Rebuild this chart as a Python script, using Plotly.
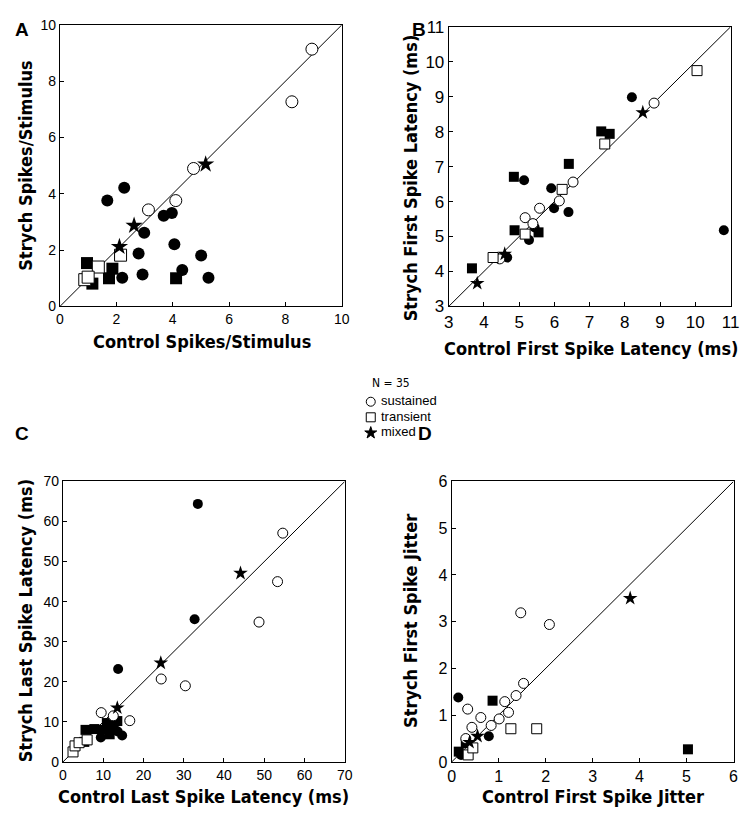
import plotly.graph_objects as go

# ---- Panel A: spikes / stimulus ----
a_sus_x = [8.94, 8.23, 4.74, 3.14, 4.11]
a_sus_y = [9.14, 7.27, 4.90, 3.43, 3.76]
a_tra_x = [2.15, 1.36, 0.88, 1.00]
a_tra_y = [1.82, 1.40, 0.95, 1.04]
a_mix_x = [5.17, 2.63, 2.11]
a_mix_y = [5.05, 2.87, 2.12]
a_fsq_x = [0.96, 1.86, 1.74, 1.15, 4.12]
a_fsq_y = [1.54, 1.34, 1.00, 0.81, 1.00]
a_fci_x = [1.68, 2.28, 3.68, 3.97, 2.99, 2.79, 4.06, 5.01, 4.34, 2.21, 2.93, 5.27]
a_fci_y = [3.76, 4.22, 3.22, 3.32, 2.62, 1.88, 2.21, 1.81, 1.29, 1.02, 1.13, 1.02]

# ---- Panel B: first spike latency ----
b_sus_x = [8.83, 6.53, 6.14, 5.58, 5.17, 5.39, 4.33, 4.45]
b_sus_y = [8.82, 6.56, 6.02, 5.81, 5.54, 5.37, 4.40, 4.36]
b_tra_x = [10.05, 7.43, 6.22, 5.17, 4.26]
b_tra_y = [9.75, 7.65, 6.35, 5.07, 4.40]
b_mix_x = [8.51, 3.81, 4.59]
b_mix_y = [8.55, 3.66, 4.50]
b_fsq_x = [3.66, 4.85, 4.87, 6.41, 7.33, 7.57, 5.55]
b_fsq_y = [4.09, 6.71, 5.18, 7.08, 8.01, 7.94, 5.12]
b_fci_x = [8.20, 5.14, 5.91, 5.99, 6.40, 5.44, 5.28, 4.66, 10.81]
b_fci_y = [8.99, 6.61, 6.38, 5.81, 5.70, 5.26, 4.90, 4.40, 5.18]

# ---- Panel C: last spike latency ----
c_sus_x = [54.6, 53.3, 48.7, 24.4, 30.4, 9.5, 12.5, 16.6]
c_sus_y = [57.1, 45.0, 34.9, 20.7, 19.0, 12.3, 11.5, 10.3]
c_tra_x = [2.5, 3.0, 4.0, 6.0]
c_tra_y = [2.5, 4.0, 4.8, 5.5]
c_mix_x = [44.1, 24.3, 13.5]
c_mix_y = [47.1, 24.7, 13.5]
c_fsq_x = [5.3, 5.6, 7.8, 10.0, 11.6, 10.9, 13.5, 12.6]
c_fsq_y = [5.0, 8.0, 8.2, 8.0, 6.9, 9.7, 10.2, 8.5]
c_fci_x = [33.5, 32.7, 13.7, 9.4, 14.7, 13.6, 12.0]
c_fci_y = [64.4, 35.6, 23.2, 6.1, 6.6, 7.6, 9.0]

# ---- Panel D: first spike jitter ----
d_sus_x = [1.47, 2.08, 1.53, 1.37, 1.13, 0.34, 1.21, 0.62, 1.01, 0.43, 0.84, 0.30]
d_sus_y = [3.19, 2.94, 1.68, 1.42, 1.29, 1.13, 1.06, 0.95, 0.92, 0.74, 0.78, 0.50]
d_tra_x = [1.26, 1.81, 0.35, 0.45]
d_tra_y = [0.71, 0.71, 0.15, 0.30]
d_mix_x = [3.80, 0.55, 0.38]
d_mix_y = [3.50, 0.55, 0.42]
d_fsq_x = [0.87, 5.03, 0.15, 0.30]
d_fsq_y = [1.31, 0.27, 0.22, 0.40]
d_fci_x = [0.14, 0.79, 6.19, 6.19, 0.20]
d_fci_y = [1.38, 0.55, 3.83, 2.66, 0.15]

# legend key
legend_labels = ["sustained", "transient", "mixed"]
legend_symbols = ["circle", "square", "star"]
legend_colors = ["white", "white", "black"]

ranges = {"A": [0, 10], "B": [3, 11], "C": [0, 70], "D": [0, 6]}
dticks = {"A": 2, "B": 1, "C": 10, "D": 1}

panels = [
    ("A", "x", "y", (a_sus_x, a_sus_y), (a_tra_x, a_tra_y), (a_mix_x, a_mix_y),
     (a_fsq_x, a_fsq_y), (a_fci_x, a_fci_y), 12),
    ("B", "x2", "y2", (b_sus_x, b_sus_y), (b_tra_x, b_tra_y), (b_mix_x, b_mix_y),
     (b_fsq_x, b_fsq_y), (b_fci_x, b_fci_y), 10),
    ("C", "x3", "y3", (c_sus_x, c_sus_y), (c_tra_x, c_tra_y), (c_mix_x, c_mix_y),
     (c_fsq_x, c_fsq_y), (c_fci_x, c_fci_y), 10),
    ("D", "x4", "y4", (d_sus_x, d_sus_y), (d_tra_x, d_tra_y), (d_mix_x, d_mix_y),
     (d_fsq_x, d_fsq_y), (d_fci_x, d_fci_y), 10),
]

fig = go.Figure()
outline = dict(color="black", width=1)

for key, xa, ya, sus, tra, mix, fsq, fci, msz in panels:
    r = ranges[key]
    # unity line
    fig.add_trace(go.Scatter(x=r, y=r, xaxis=xa, yaxis=ya, mode="lines",
                             line=dict(color="black", width=1), hoverinfo="skip"))
    fig.add_trace(go.Scatter(x=fci[0], y=fci[1], xaxis=xa, yaxis=ya, mode="markers",
                             marker=dict(symbol="circle", size=msz, color="black"),
                             cliponaxis=False))
    fig.add_trace(go.Scatter(x=fsq[0], y=fsq[1], xaxis=xa, yaxis=ya, mode="markers",
                             marker=dict(symbol="square", size=msz, color="black"),
                             cliponaxis=False))
    fig.add_trace(go.Scatter(x=sus[0], y=sus[1], xaxis=xa, yaxis=ya, mode="markers",
                             marker=dict(symbol="circle", size=msz, color="white", line=outline),
                             name="sustained", cliponaxis=False))
    fig.add_trace(go.Scatter(x=tra[0], y=tra[1], xaxis=xa, yaxis=ya, mode="markers",
                             marker=dict(symbol="square", size=msz, color="white", line=outline),
                             name="transient", cliponaxis=False))
    fig.add_trace(go.Scatter(x=mix[0], y=mix[1], xaxis=xa, yaxis=ya, mode="markers",
                             marker=dict(symbol="star", size=msz + 1, color="black"),
                             name="mixed", cliponaxis=False))

# hand-made key on a hidden axis
fig.add_trace(go.Scatter(
    x=[0] * len(legend_labels), y=list(range(len(legend_labels))),
    xaxis="x5", yaxis="y5", mode="markers+text",
    text=[" " + t for t in legend_labels], textposition="middle right",
    textfont=dict(family="Liberation Sans, Arial", size=13, color="black"),
    marker=dict(symbol=legend_symbols, color=legend_colors, size=9, line=outline),
    cliponaxis=False, hoverinfo="skip"))

W, H = 750, 814
# the page ends up drawn slightly shrunk and shifted; positions below are
# target pixels, mapped back through that
SC, OFF = 0.982, 15.0

def fx(t):
    return max(0.0, (t - OFF) / SC / W)

def fy(t):
    return min(1.0, 1 - (t - OFF) / SC / H)

boxes = {
    "A": ((62, 344), (23, 306)),
    "B": ((451, 733), (25, 306)),
    "C": ((65, 347), (482, 764)),
    "D": ((454, 736), (482, 764)),
}
tick_sizes = {"A": 14, "B": 17, "C": 14, "D": 16}
names = [("A", "xaxis", "yaxis", "y", "x"), ("B", "xaxis2", "yaxis2", "y2", "x2"),
         ("C", "xaxis3", "yaxis3", "y3", "x3"), ("D", "xaxis4", "yaxis4", "y4", "x4")]

layout_axes = {}
for key, xname, yname, yanchor, xanchor in names:
    (x0, x1), (y0, y1) = boxes[key]
    common = dict(range=ranges[key], dtick=dticks[key], tick0=ranges[key][0],
                  showgrid=False, zeroline=False, showline=True, mirror=True,
                  linecolor="black", linewidth=1, ticks="inside", ticklen=4,
                  tickcolor="black",
                  tickfont=dict(family="Liberation Sans, Arial", size=tick_sizes[key],
                                color="black"))
    layout_axes[xname] = dict(common, domain=[fx(x0), fx(x1)], anchor=yanchor)
    layout_axes[yname] = dict(common, domain=[fy(y1), fy(y0)], anchor=xanchor)

hidden = dict(visible=False, showgrid=False, zeroline=False, fixedrange=True)
layout_axes["xaxis5"] = dict(hidden, domain=[fx(373), fx(473)], range=[0, 10], anchor="y5")
layout_axes["yaxis5"] = dict(hidden, domain=[fy(441), fy(394)], range=[2.5, -0.5],
                             anchor="x5")

fig.update_layout(**layout_axes)

title_font = dict(family="DejaVu Sans Condensed, Liberation Sans, Arial", size=18,
                  color="black")
annotations = []
xtitles = [("Control Spikes/Stimulus", 204, 341), ("Control First Spike Latency (ms)", 594, 348),
           ("Control Last Spike Latency (ms)", 206, 799), ("Control First Spike Jitter", 595, 799)]
# (text, left-edge target, centre y target)
ytitles = [("Strych Spikes/Stimulus", 13, 165), ("Strych First Spike Latency (ms)", 400, 177),
           ("Strych Last Spike Latency (ms)", 9, 622), ("Strych First Spike Jitter", 400, 622)]
for t, px, py in xtitles:
    annotations.append(dict(text="<b>%s</b>" % t, x=fx(px), y=fy(py), xref="paper",
                            yref="paper", showarrow=False, font=title_font,
                            xanchor="center", yanchor="middle"))
for t, px, py in ytitles:
    annotations.append(dict(text="<b>%s</b>" % t, x=fx(px), y=fy(py), xref="paper",
                            yref="paper", showarrow=False, font=title_font, textangle=-90,
                            xanchor="left", yanchor="middle"))
# panel letters: (label, left target, top target)
for lab, px, py in [("A", 2, 2), ("B", 412, 2), ("C", 4, 421), ("D", 418, 421)]:
    annotations.append(dict(text="<b>%s</b>" % lab, x=fx(px), y=fy(py), xref="paper",
                            yref="paper", showarrow=False,
                            font=dict(family="Liberation Sans, Arial", size=19, color="black"),
                            xanchor="left", yanchor="top"))
annotations.append(dict(text="N = 35", x=fx(393), y=fy(383), xref="paper", yref="paper",
                        showarrow=False, xanchor="center", yanchor="middle",
                        font=dict(family="DejaVu Sans Condensed, Liberation Sans", size=12,
                                  color="black")))

fig.update_layout(
    annotations=annotations,
    width=W, height=H,
    margin=dict(l=0, r=0, t=0, b=0),
    plot_bgcolor="white", paper_bgcolor="white",
    showlegend=False,
)

fig.write_html("out.html")
